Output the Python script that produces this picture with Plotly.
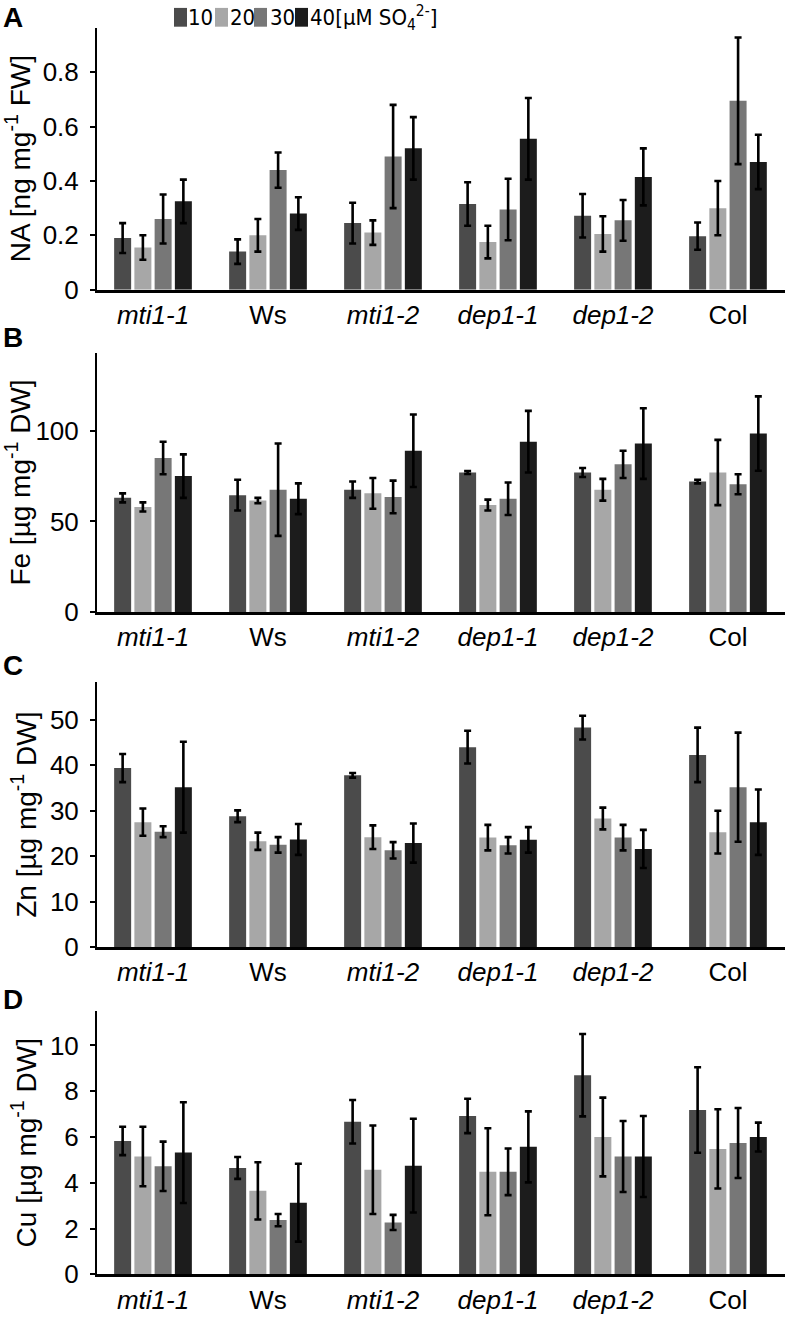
import plotly.graph_objects as go

genotypes = ["mti1-1", "Ws", "mti1-2", "dep1-1", "dep1-2", "Col"]
geno_labels = ["<i>mti1-1</i>", "Ws", "<i>mti1-2</i>", "<i>dep1-1</i>", "<i>dep1-2</i>", "Col"]
sulfate = ["10", "20", "30", "40"]
colors = ["#4b4b4b", "#a7a7a7", "#777777", "#1c1c1c"]

# Panel A: NA [ng mg-1 FW]
na_10 = [0.19, 0.14, 0.245, 0.315, 0.272, 0.197]
na_20 = [0.155, 0.20, 0.21, 0.175, 0.205, 0.30]
na_30 = [0.26, 0.44, 0.49, 0.295, 0.255, 0.695]
na_40 = [0.325, 0.28, 0.52, 0.555, 0.415, 0.47]
na_err_10 = [0.055, 0.045, 0.075, 0.08, 0.08, 0.05]
na_err_20 = [0.045, 0.06, 0.045, 0.06, 0.065, 0.10]
na_err_30 = [0.09, 0.065, 0.19, 0.113, 0.075, 0.233]
na_err_40 = [0.08, 0.06, 0.115, 0.15, 0.105, 0.10]

# Panel B: Fe [ug mg-1 DW]
fe_10 = [63, 64.5, 67.5, 77, 77, 72]
fe_20 = [58, 61.5, 65.5, 59, 67.5, 77]
fe_30 = [85, 67.5, 63.5, 62.5, 81.5, 70.5]
fe_40 = [75, 62.5, 89, 94, 93, 98.5]
fe_err_10 = [2.5, 8.5, 4.5, 0.8, 2.5, 1.0]
fe_err_20 = [2.5, 1.5, 8.5, 3.0, 6.0, 18]
fe_err_30 = [9, 25.5, 9, 9, 7.5, 5.5]
fe_err_40 = [12, 8.5, 20, 17, 19.5, 20.5]

# Panel C: Zn [ug mg-1 DW]
zn_10 = [39.4, 28.8, 37.8, 44.0, 48.3, 42.3]
zn_20 = [27.5, 23.3, 24.2, 24.1, 28.3, 25.3]
zn_30 = [25.4, 22.5, 21.3, 22.4, 24.1, 35.2]
zn_40 = [35.2, 23.7, 22.9, 23.6, 21.6, 27.5]
zn_err_10 = [3.1, 1.3, 0.5, 3.6, 2.6, 6.0]
zn_err_20 = [3.0, 1.9, 2.6, 2.8, 2.4, 4.7]
zn_err_30 = [1.2, 1.7, 1.8, 1.8, 2.8, 12.0]
zn_err_40 = [10.0, 3.4, 4.3, 2.8, 4.2, 7.2]

# Panel D: Cu [ug mg-1 DW]
cu_10 = [5.83, 4.65, 6.67, 6.92, 8.70, 7.18]
cu_20 = [5.15, 3.65, 4.57, 4.48, 6.00, 5.48]
cu_30 = [4.72, 2.37, 2.27, 4.48, 5.15, 5.74]
cu_40 = [5.32, 3.13, 4.75, 5.57, 5.15, 6.00]
cu_err_10 = [0.62, 0.48, 0.95, 0.75, 1.80, 1.87]
cu_err_20 = [1.30, 1.25, 1.93, 1.90, 1.72, 1.73]
cu_err_30 = [1.08, 0.27, 0.33, 1.02, 1.55, 1.53]
cu_err_40 = [2.20, 1.70, 2.05, 1.55, 1.77, 0.63]

panels = [
    ("A", "NA [ng mg<sup>-1</sup> FW]", [na_10, na_20, na_30, na_40],
     [na_err_10, na_err_20, na_err_30, na_err_40], [0, 0.964], 0.2),
    ("B", "Fe [µg mg<sup>-1</sup> DW]", [fe_10, fe_20, fe_30, fe_40],
     [fe_err_10, fe_err_20, fe_err_30, fe_err_40], [0, 143], 50),
    ("C", "Zn [µg mg<sup>-1</sup> DW]", [zn_10, zn_20, zn_30, zn_40],
     [zn_err_10, zn_err_20, zn_err_30, zn_err_40], [0, 58.3], 10),
    ("D", "Cu [µg mg<sup>-1</sup> DW]", [cu_10, cu_20, cu_30, cu_40],
     [cu_err_10, cu_err_20, cu_err_30, cu_err_40], [0, 11.5], 2),
]

W, H = 789, 1322
ML, MR = 97, 4
PW = W - ML - MR

def px_x(px):
    return (px - ML) / PW

def px_y(py):
    return 1 - py / H

# y-extent of each panel in pixels (top, baseline)
panel_px = [(28, 293), (357, 619), (690, 958), (1022.7, 1289)]
letter_y = [18, 341, 673, 1011]

FONT = "Liberation Sans, Arial, sans-serif"
NARROW = "Liberation Sans Narrow, DejaVu Sans Condensed, Liberation Sans, sans-serif"
fig = go.Figure()
layout = dict(
    width=W, height=H,
    margin=dict(l=ML, r=MR, t=0, b=0),
    paper_bgcolor="white", plot_bgcolor="white",
    barmode="group", bargap=0.296, bargroupgap=0.16,
    showlegend=False,
    font=dict(family=FONT, color="black", size=26),
)

annotations = []
shapes = []
for i, (letter, title, series, errs, rng, dt) in enumerate(panels):
    n = "" if i == 0 else str(i + 1)
    xa, ya = "x" + n, "y" + n
    for j in range(4):
        fig.add_trace(go.Bar(
            x=list(range(len(genotypes))), y=series[j], name=sulfate[j],
            marker=dict(color=colors[j], line=dict(width=0)),
            error_y=dict(type="data", array=errs[j], color="black",
                         thickness=2.6, width=3.5),
            xaxis=xa, yaxis=ya, offsetgroup=str(j),
        ))
    top, base = panel_px[i]
    layout["xaxis" + n] = dict(
        domain=[0, 1], anchor=ya, range=[-0.487, 5.496],
        tickmode="array", tickvals=list(range(len(genotypes))), ticktext=geno_labels,
        showline=True, linecolor="black", linewidth=3, ticks="",
        showgrid=False, zeroline=False, tickfont=dict(size=26),
    )
    layout["yaxis" + n] = dict(
        domain=[px_y(base), px_y(top)], anchor=xa, range=rng, dtick=dt, tick0=0,
        showline=True, linecolor="black", linewidth=2, ticks="outside",
        ticklen=5, tickwidth=2, tickcolor="black", ticklabelstandoff=6,
        showgrid=False, zeroline=False, tickfont=dict(size=26),
        title=dict(text=title, font=dict(size=28), standoff=5),
    )
    annotations.append(dict(
        text="<b>" + letter + "</b>", xref="paper", yref="paper",
        x=px_x(1), y=px_y(letter_y[i]), xanchor="left", yanchor="middle",
        showarrow=False, font=dict(size=28, family=FONT),
    ))

# legend drawn at top
leg_sq = [174, 215, 254, 295]
leg_txt = [188, 230, 270, 310]
leg_labels = ["10", "20", "30", "40[µM SO<sub>4</sub><sup>2-</sup>]"]
for j in range(4):
    shapes.append(dict(
        type="rect", xref="paper", yref="paper",
        x0=px_x(leg_sq[j]), x1=px_x(leg_sq[j] + 13), y0=px_y(27), y1=px_y(8),
        fillcolor=colors[j], line=dict(width=0),
    ))
    annotations.append(dict(
        text=leg_labels[j], xref="paper", yref="paper",
        x=px_x(leg_txt[j]), y=px_y(18), xanchor="left", yanchor="middle",
        showarrow=False, font=dict(size=22, family=NARROW), xshift=-2,
    ))

layout["annotations"] = annotations
layout["shapes"] = shapes
fig.update_layout(**layout)

fig.write_html("out.html", config={"displayModeBar": False},
               post_script="document.body.style.margin='0';")
